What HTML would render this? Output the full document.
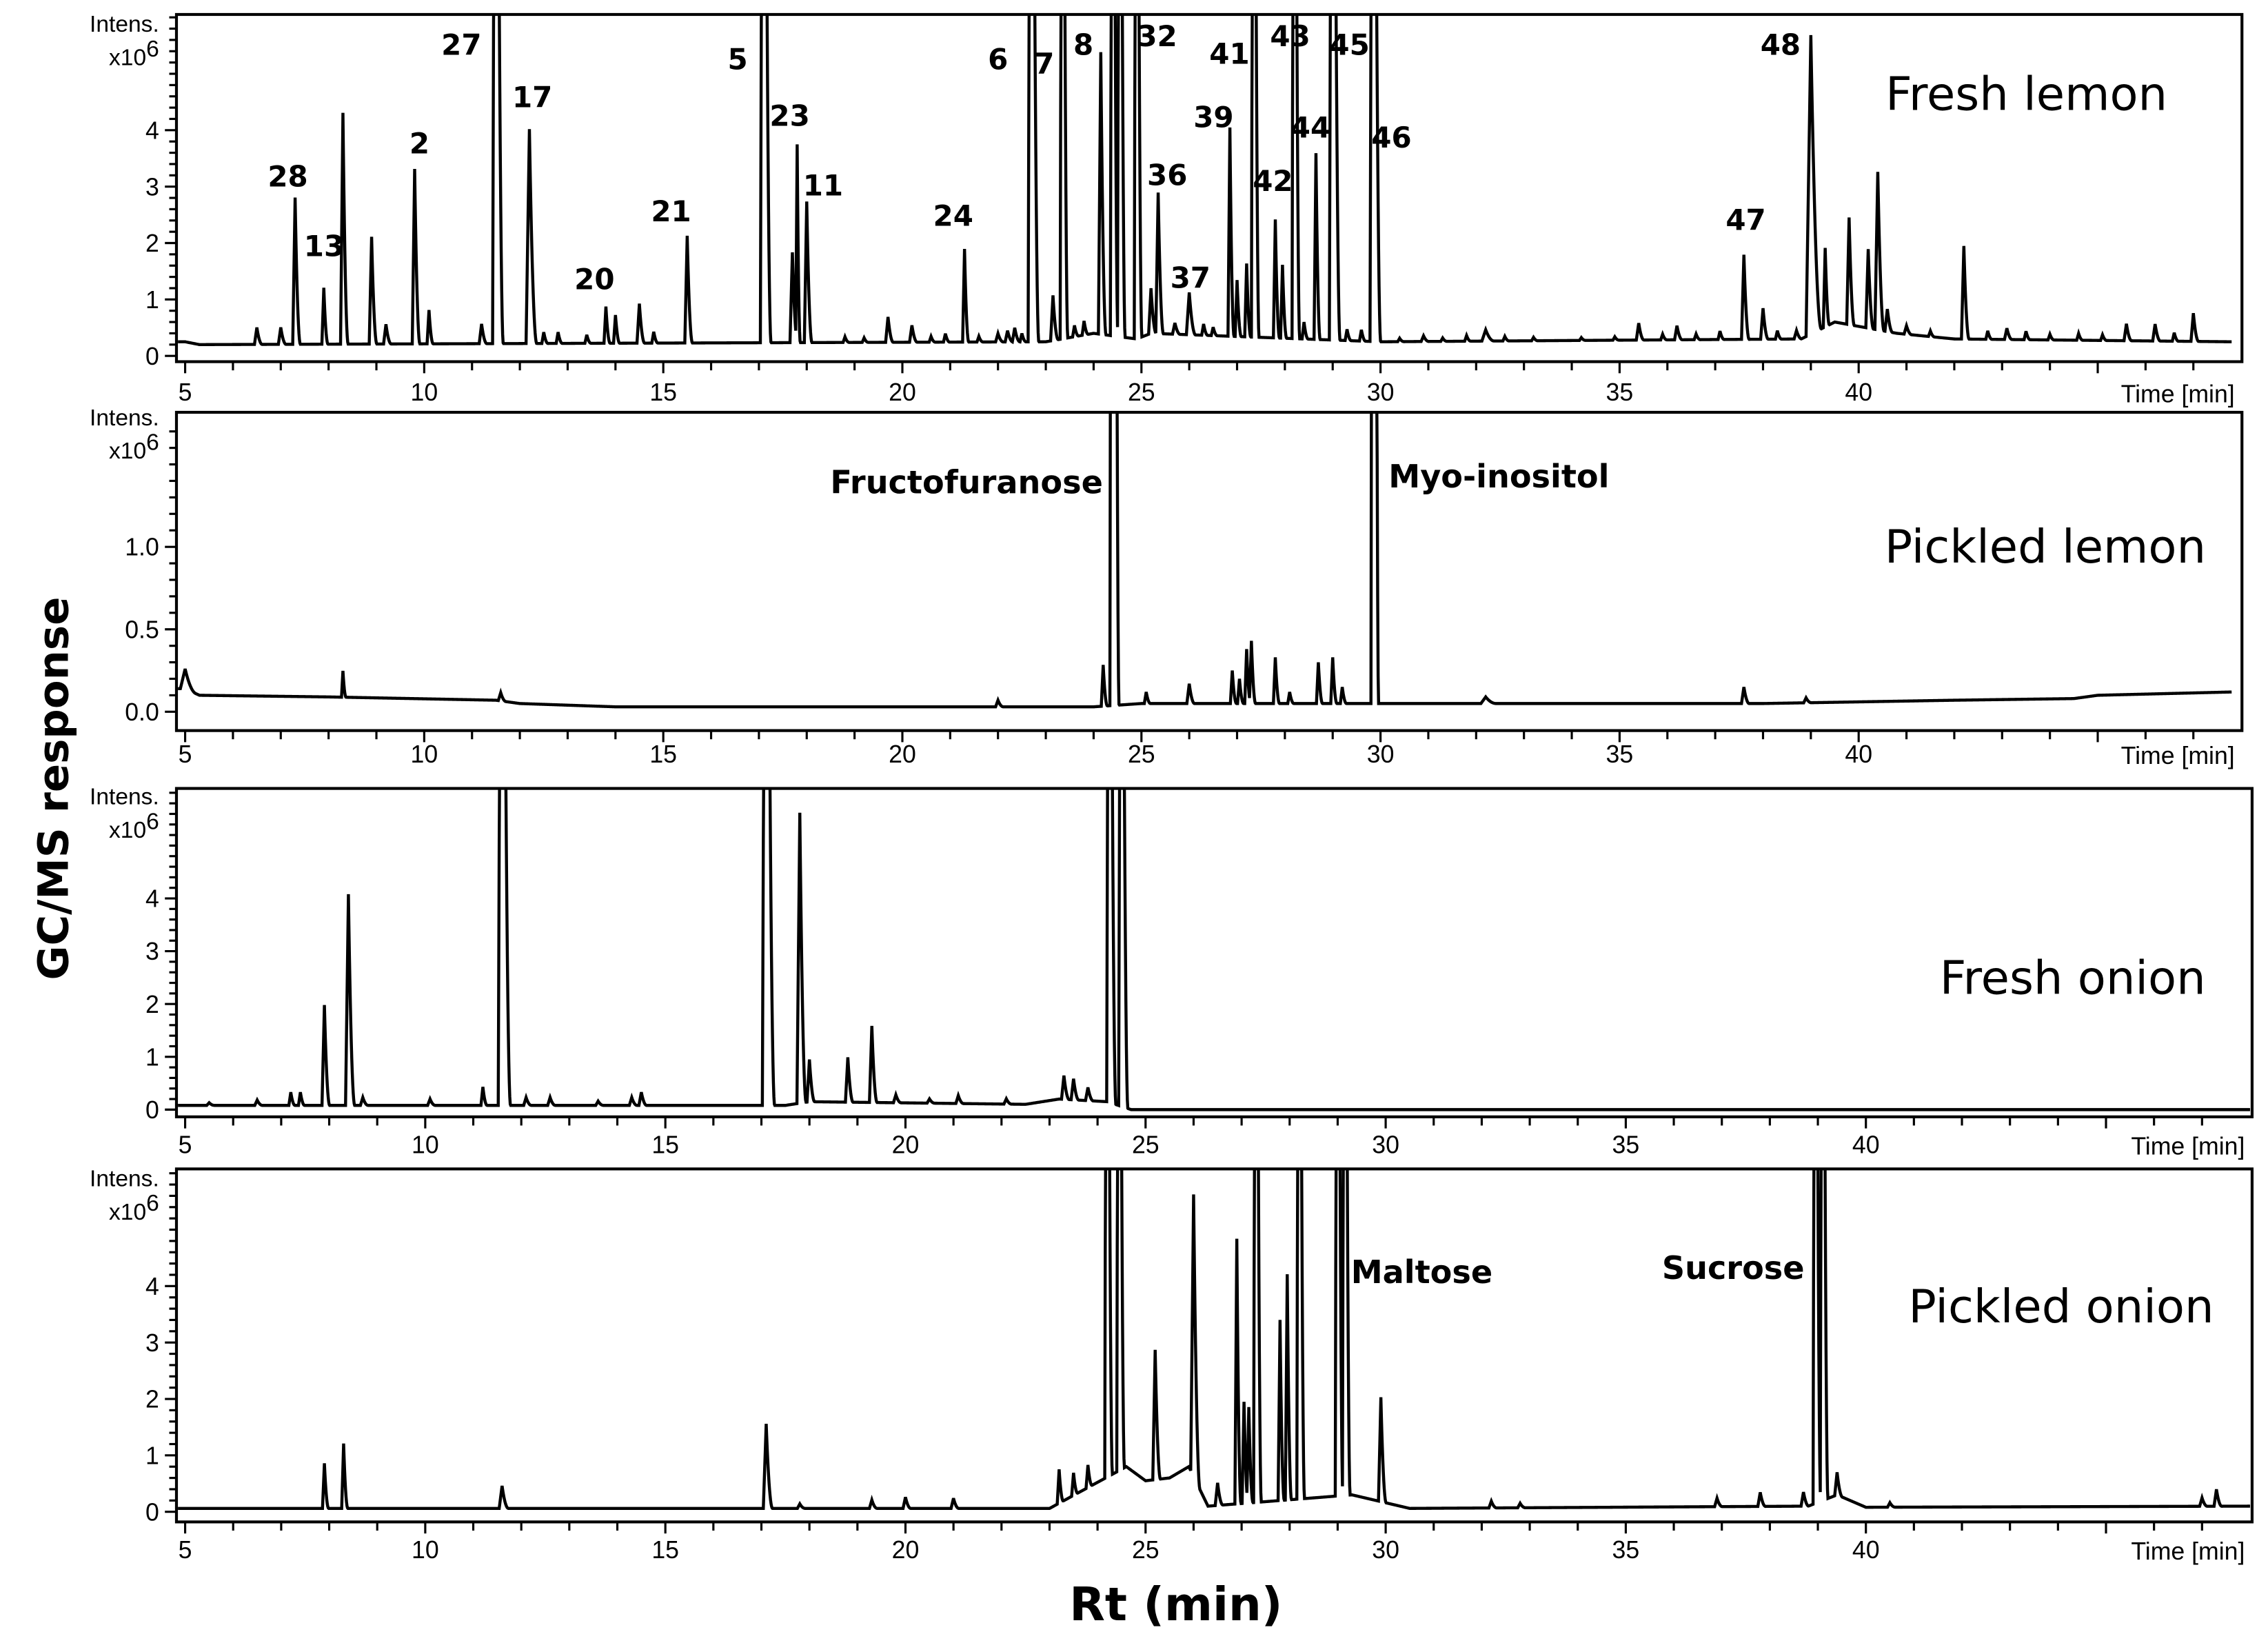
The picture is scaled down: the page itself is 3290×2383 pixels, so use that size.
<!DOCTYPE html>
<html><head><meta charset="utf-8"><style>
html,body{margin:0;padding:0;background:#fff;}
svg{display:block;}
text{font-family:"Liberation Sans",sans-serif;fill:#000;}
.lbl{font-family:"DejaVu Sans","Liberation Sans",sans-serif;font-weight:bold;font-size:20px;text-anchor:middle;}
.cmp{font-family:"DejaVu Sans","Liberation Sans",sans-serif;font-weight:bold;font-size:22px;}
.ttl{font-family:"DejaVu Sans","Liberation Sans",sans-serif;font-size:32px;}
.tick{font-size:17px;}
</style></head><body>
<svg id="chart" width="3290" height="2383" viewBox="0 0 1568 1135.7" preserveAspectRatio="none" xmlns="http://www.w3.org/2000/svg">
<defs></defs>
<g id="panels"></g>
<text x="0" y="0" transform="translate(47,545) rotate(-90)" text-anchor="middle" style="font-family:'DejaVu Sans','Liberation Sans',sans-serif;font-weight:bold;font-size:29px;">GC/MS response</text>
<text x="813" y="1120" text-anchor="middle" style="font-family:'DejaVu Sans','Liberation Sans',sans-serif;font-weight:bold;font-size:32px;">Rt (min)</text>
</svg>
<script>
// ---------- Data: peaks [retention time (min), height (x10^6), width (min)] ----------
const SAT = 20;
const freshLemonPeaks = [[6.5,0.3,0.05],[7.0,0.3,0.05],[7.3,2.6,0.05],[7.9,1.0,0.04],[8.3,4.1,0.05],[8.9,1.9,0.05],[9.2,0.35,0.05],[9.8,3.1,0.05],[10.1,0.6,0.04],[11.2,0.35,0.05],[11.5,SAT,0.07],[12.2,3.8,0.07],[12.5,0.2,0.04],[12.8,0.2,0.04],[13.4,0.15,0.04],[13.8,0.65,0.04],[14.0,0.5,0.04],[14.5,0.7,0.05],[14.8,0.2,0.04],[15.5,1.9,0.05],[17.1,SAT,0.07],[17.7,1.6,0.05],[17.8,3.5,0.03],[18.0,2.5,0.05],[18.8,0.1,0.04],[19.2,0.08,0.04],[19.7,0.45,0.05],[20.2,0.3,0.05],[20.6,0.1,0.04],[20.9,0.15,0.04],[21.3,1.65,0.04],[21.6,0.1,0.04],[22.0,0.15,0.05],[22.2,0.2,0.05],[22.35,0.25,0.05],[22.5,0.15,0.04],[22.7,SAT,0.07],[23.15,0.8,0.05],[23.35,SAT,0.05],[23.6,0.2,0.04],[23.8,0.25,0.04],[24.15,5.0,0.05],[24.4,SAT,0.05],[24.55,SAT,0.05],[24.9,SAT,0.05],[25.2,0.8,0.05],[25.35,2.5,0.05],[25.7,0.2,0.05],[26.0,0.75,0.06],[26.3,0.2,0.04],[26.5,0.15,0.04],[26.85,3.7,0.04],[27.0,1.0,0.04],[27.2,1.3,0.04],[27.35,SAT,0.05],[27.8,2.1,0.04],[27.95,1.3,0.04],[28.2,SAT,0.05],[28.4,0.3,0.04],[28.65,3.3,0.04],[29.0,SAT,0.07],[29.3,0.2,0.04],[29.6,0.2,0.04],[29.85,SAT,0.07],[30.4,0.06,0.04],[30.9,0.1,0.05],[31.3,0.06,0.04],[31.8,0.1,0.04],[32.2,0.2,0.08],[32.6,0.08,0.04],[33.2,0.06,0.04],[34.2,0.05,0.04],[34.9,0.06,0.04],[35.4,0.3,0.05],[35.9,0.1,0.04],[36.2,0.25,0.05],[36.6,0.1,0.04],[37.1,0.15,0.04],[37.6,1.5,0.05],[38.0,0.55,0.05],[38.3,0.15,0.04],[38.7,0.15,0.05],[39.0,5.3,0.1],[39.3,1.4,0.04],[39.8,1.9,0.05],[40.2,1.4,0.05],[40.4,2.8,0.06],[40.6,0.4,0.05],[41.0,0.15,0.05],[41.5,0.1,0.04],[42.2,1.65,0.05],[42.7,0.15,0.04],[43.1,0.2,0.05],[43.5,0.15,0.04],[44.0,0.1,0.04],[44.6,0.12,0.04],[45.1,0.1,0.04],[45.6,0.3,0.05],[46.2,0.3,0.05],[46.6,0.15,0.04],[47.0,0.5,0.05]];
const freshLemonBase = [[5,0.25],[5.3,0.2],[23,0.25],[24,0.4],[24.9,0.3],[25.2,0.4],[30,0.25],[38.8,0.3],[39.5,0.6],[40.8,0.4],[42,0.3],[47.8,0.25]];

const pickledLemonPeaks = [[5.0,0.12,0.1],[8.3,0.16,0.03],[11.6,0.05,0.05],[22.0,0.04,0.05],[24.2,0.25,0.04],[24.4,SAT,0.06],[25.1,0.07,0.04],[26.0,0.12,0.05],[26.9,0.2,0.04],[27.05,0.15,0.04],[27.2,0.33,0.04],[27.3,0.38,0.04],[27.8,0.28,0.04],[28.1,0.07,0.04],[28.7,0.25,0.04],[29.0,0.28,0.04],[29.2,0.1,0.04],[29.85,SAT,0.05],[32.2,0.04,0.1],[37.6,0.1,0.05],[38.9,0.03,0.05]];
const pickledLemonBase = [[5,0.14],[5.3,0.1],[8,0.09],[11.5,0.07],[12,0.05],[14,0.03],[24,0.03],[25,0.05],[38,0.05],[42,0.07],[44.5,0.08],[45,0.1],[47.8,0.12]];

const freshOnionPeaks = [[5.5,0.05,0.05],[6.5,0.1,0.05],[7.2,0.25,0.04],[7.4,0.25,0.04],[7.9,1.9,0.05],[8.4,4.0,0.06],[8.7,0.15,0.05],[10.1,0.12,0.05],[11.2,0.35,0.04],[11.6,SAT,0.08],[12.1,0.15,0.05],[12.6,0.15,0.05],[13.6,0.08,0.05],[14.3,0.15,0.05],[14.5,0.25,0.05],[17.1,SAT,0.08],[17.8,5.5,0.06],[18.0,0.8,0.05],[18.8,0.85,0.05],[19.3,1.45,0.05],[19.8,0.15,0.05],[20.5,0.08,0.05],[21.1,0.15,0.05],[22.1,0.1,0.05],[23.3,0.45,0.05],[23.5,0.4,0.05],[23.8,0.25,0.05],[24.25,SAT,0.06],[24.5,SAT,0.06]];
const freshOnionBase = [[5,0.08],[17.5,0.08],[18,0.15],[22.5,0.1],[23.2,0.2],[24.2,0.15],[24.7,0],[48,0]];

const pickledOnionPeaks = [[7.9,0.8,0.04],[8.3,1.15,0.04],[11.6,0.4,0.06],[17.1,1.5,0.06],[17.8,0.08,0.05],[19.3,0.15,0.05],[20.0,0.2,0.05],[21.0,0.18,0.05],[23.2,0.6,0.04],[23.5,0.4,0.04],[23.8,0.4,0.04],[24.2,SAT,0.05],[24.45,SAT,0.05],[25.2,2.3,0.05],[26.0,5.0,0.06],[26.5,0.4,0.05],[26.9,4.7,0.04],[27.05,1.8,0.04],[27.15,1.7,0.04],[27.3,SAT,0.05],[27.8,3.2,0.04],[27.95,4.0,0.04],[28.2,SAT,0.05],[29.0,SAT,0.05],[29.15,SAT,0.05],[29.9,1.85,0.05],[32.2,0.12,0.05],[32.8,0.08,0.05],[36.9,0.15,0.05],[37.8,0.25,0.05],[38.7,0.25,0.05],[38.95,SAT,0.05],[39.1,SAT,0.05],[39.4,0.4,0.05],[40.5,0.08,0.05],[47.0,0.15,0.05],[47.3,0.3,0.05]];
const pickledOnionBase = [[5,0.06],[23,0.06],[24.6,0.8],[25,0.55],[25.5,0.6],[25.9,0.8],[26.3,0.1],[29.3,0.3],[30.5,0.06],[38.8,0.1],[39.4,0.3],[40,0.08],[48,0.1]];

const xTickLabels = [5,10,15,20,25,30,35,40];
const yTicksCount = [0,1,2,3,4];
const yTicksPickled = [0.0,0.5,1.0];
const compoundNumbers = [["28",199,122],["13",224,170],["2",290,99],["27",319,31],["17",368,67],["20",411,193],["21",464,146],["5",510,41],["23",546,80],["11",569,128],["24",659,149],["6",690,41],["7",722,44],["8",749,31],["32",800,25],["36",807,121],["37",823,192],["39",839,81],["41",850,37],["42",880,125],["43",892,25],["44",906,88],["45",933,31],["46",962,95],["47",1207,152],["48",1231,31]];

// ---------- Panel geometry ----------
const panels = [
 {name:'fresh-lemon',title:'Fresh lemon',tx:1401,ty:76,L:122,R:1550,T:10,B:250,x5:128,x40:1285,y0:246,ppu:39,ticks:yTicksCount,minor:0.2,fmt:v=>String(v),tmax:47.8,peaks:freshLemonPeaks,base:freshLemonBase,labY:277,intY:17},
 {name:'pickled-lemon',title:'Pickled lemon',tx:1414,ty:389,L:122,R:1550,T:285,B:505,x5:128,x40:1285,y0:492,ppu:114,ticks:yTicksPickled,minor:0.1,fmt:v=>v.toFixed(1),tmax:47.8,peaks:pickledLemonPeaks,base:pickledLemonBase,labY:527,intY:289},
 {name:'fresh-onion',title:'Fresh onion',tx:1433,ty:687,L:122,R:1557,T:545,B:772,x5:128,x40:1290,y0:767,ppu:36.5,ticks:yTicksCount,minor:0.2,fmt:v=>String(v),tmax:48,peaks:freshOnionPeaks,base:freshOnionBase,labY:797,intY:551},
 {name:'pickled-onion',title:'Pickled  onion',tx:1425,ty:914,L:122,R:1557,T:808,B:1052,x5:128,x40:1290,y0:1045,ppu:39,ticks:yTicksCount,minor:0.2,fmt:v=>String(v),tmax:48,peaks:pickledOnionPeaks,base:pickledOnionBase,labY:1077,intY:815}
];
const NS='http://www.w3.org/2000/svg';
function mk(tag,attrs,parent){const e=document.createElementNS(NS,tag);for(const k in attrs)e.setAttribute(k,attrs[k]);parent.appendChild(e);return e;}
function baseAt(base,t){if(t<=base[0][0])return base[0][1];for(let i=1;i<base.length;i++){if(t<=base[i][0]){const a=base[i-1],b=base[i];return a[1]+(b[1]-a[1])*(t-a[0])/(b[0]-a[0]);}}return base[base.length-1][1];}
function signal(p,t){let v=baseAt(p.base,t);for(const [tp,h,w] of p.peaks){if(t>=tp-w&&t<=tp)v+=h*(1-(tp-t)/w);else if(t>tp&&t<=tp+2.2*w)v+=h*Math.pow(1-(t-tp)/(2.2*w),2);}return v;}
const root=document.getElementById('panels');
const defs=document.querySelector('defs');
panels.forEach((p,pi)=>{
 const xs=t=>p.x5+(t-5)*(p.x40-p.x5)/35;
 const ys=v=>p.y0-v*p.ppu;
 const g=mk('g',{},root);
 
 
 const cp=mk('clipPath',{id:'clip'+pi},defs);
 mk('rect',{x:p.L,y:p.T,width:p.R-p.L,height:p.B-p.T},cp);
 let ts=[];for(let t=4.85;t<=p.tmax;t+=0.01)ts.push(+t.toFixed(3));
 p.peaks.forEach(k=>{ts.push(k[0]);ts.push(k[0]-k[2]);});
 ts=ts.filter(t=>t>=4.85&&t<=p.tmax).sort((a,b)=>a-b);
 const pts=ts.map(t=>xs(t).toFixed(2)+','+Math.max(ys(signal(p,t)),p.T-20).toFixed(2)).join(' ');
 const line=mk('polyline',{points:pts,fill:'none',stroke:'#000','stroke-width':2.1,'stroke-linejoin':'miter','clip-path':'url(#clip'+pi+')'},g);
 
 
 const fr=mk('rect',{x:p.L,y:p.T,width:p.R-p.L,height:p.B-p.T,fill:'none',stroke:'#000','stroke-width':2},g);
 
 
 for(let t=5;xs(t)<=p.R-5;t++){const x=xs(t);mk('line',{x1:x,x2:x,y1:p.B,y2:p.B+(t%5===0?8:6),stroke:'#000','stroke-width':1.5},g);}
 xTickLabels.forEach(v=>{const tx=mk('text',{x:xs(v),y:p.labY,'text-anchor':'middle',class:'tick'},g);tx.textContent=v;
  
  });
 const tm=mk('text',{x:p.R-5,y:p.labY+1,'text-anchor':'end',class:'tick'},g);tm.textContent='Time [min]';
 
 
 const top=(p.y0-p.T)/p.ppu;
 for(let v=0;v<=top-0.02;v+=p.minor){const y=ys(v);const major=p.ticks.some(m=>Math.abs(m-v)<1e-6);mk('line',{x1:p.L,x2:p.L-(major?8:5),y1:y,y2:y,stroke:'#000','stroke-width':1.5},g);}
 p.ticks.forEach(v=>{const tx=mk('text',{x:p.L-12,y:ys(v)+6,'text-anchor':'end',class:'tick'},g);tx.textContent=p.fmt(v);
  
  });
 const it=mk('text',{x:p.L-12,y:p.intY+5,'text-anchor':'end',style:'font-size:16px'},g);it.textContent='Intens.';
 
 
 const ex=mk('text',{x:p.L-12,y:p.intY+28,'text-anchor':'end',style:'font-size:16px'},g);ex.innerHTML='x10<tspan dy="-6">6</tspan>';
 
 
 const ti=mk('text',{x:p.tx,y:p.ty,'text-anchor':'middle',class:'ttl'},g);ti.textContent=p.title;
 
 
});
const svg=document.getElementById('chart');
compoundNumbers.forEach(([s,x,y])=>{const t=mk('text',{x:x,y:y+7,class:'lbl'},svg);t.textContent=s;
 
 });
[['Fructofuranose',574,341,'fructofuranose-label'],['Myo-inositol',960,337,'myo-inositol-label'],['Maltose',934,887,'maltose-label'],['Sucrose',1149,884,'sucrose-label']].forEach(([s,x,y,n])=>{
 const t=mk('text',{x:x,y:y,class:'cmp'},svg);t.textContent=s;
 
 });
</script>
</body></html>
